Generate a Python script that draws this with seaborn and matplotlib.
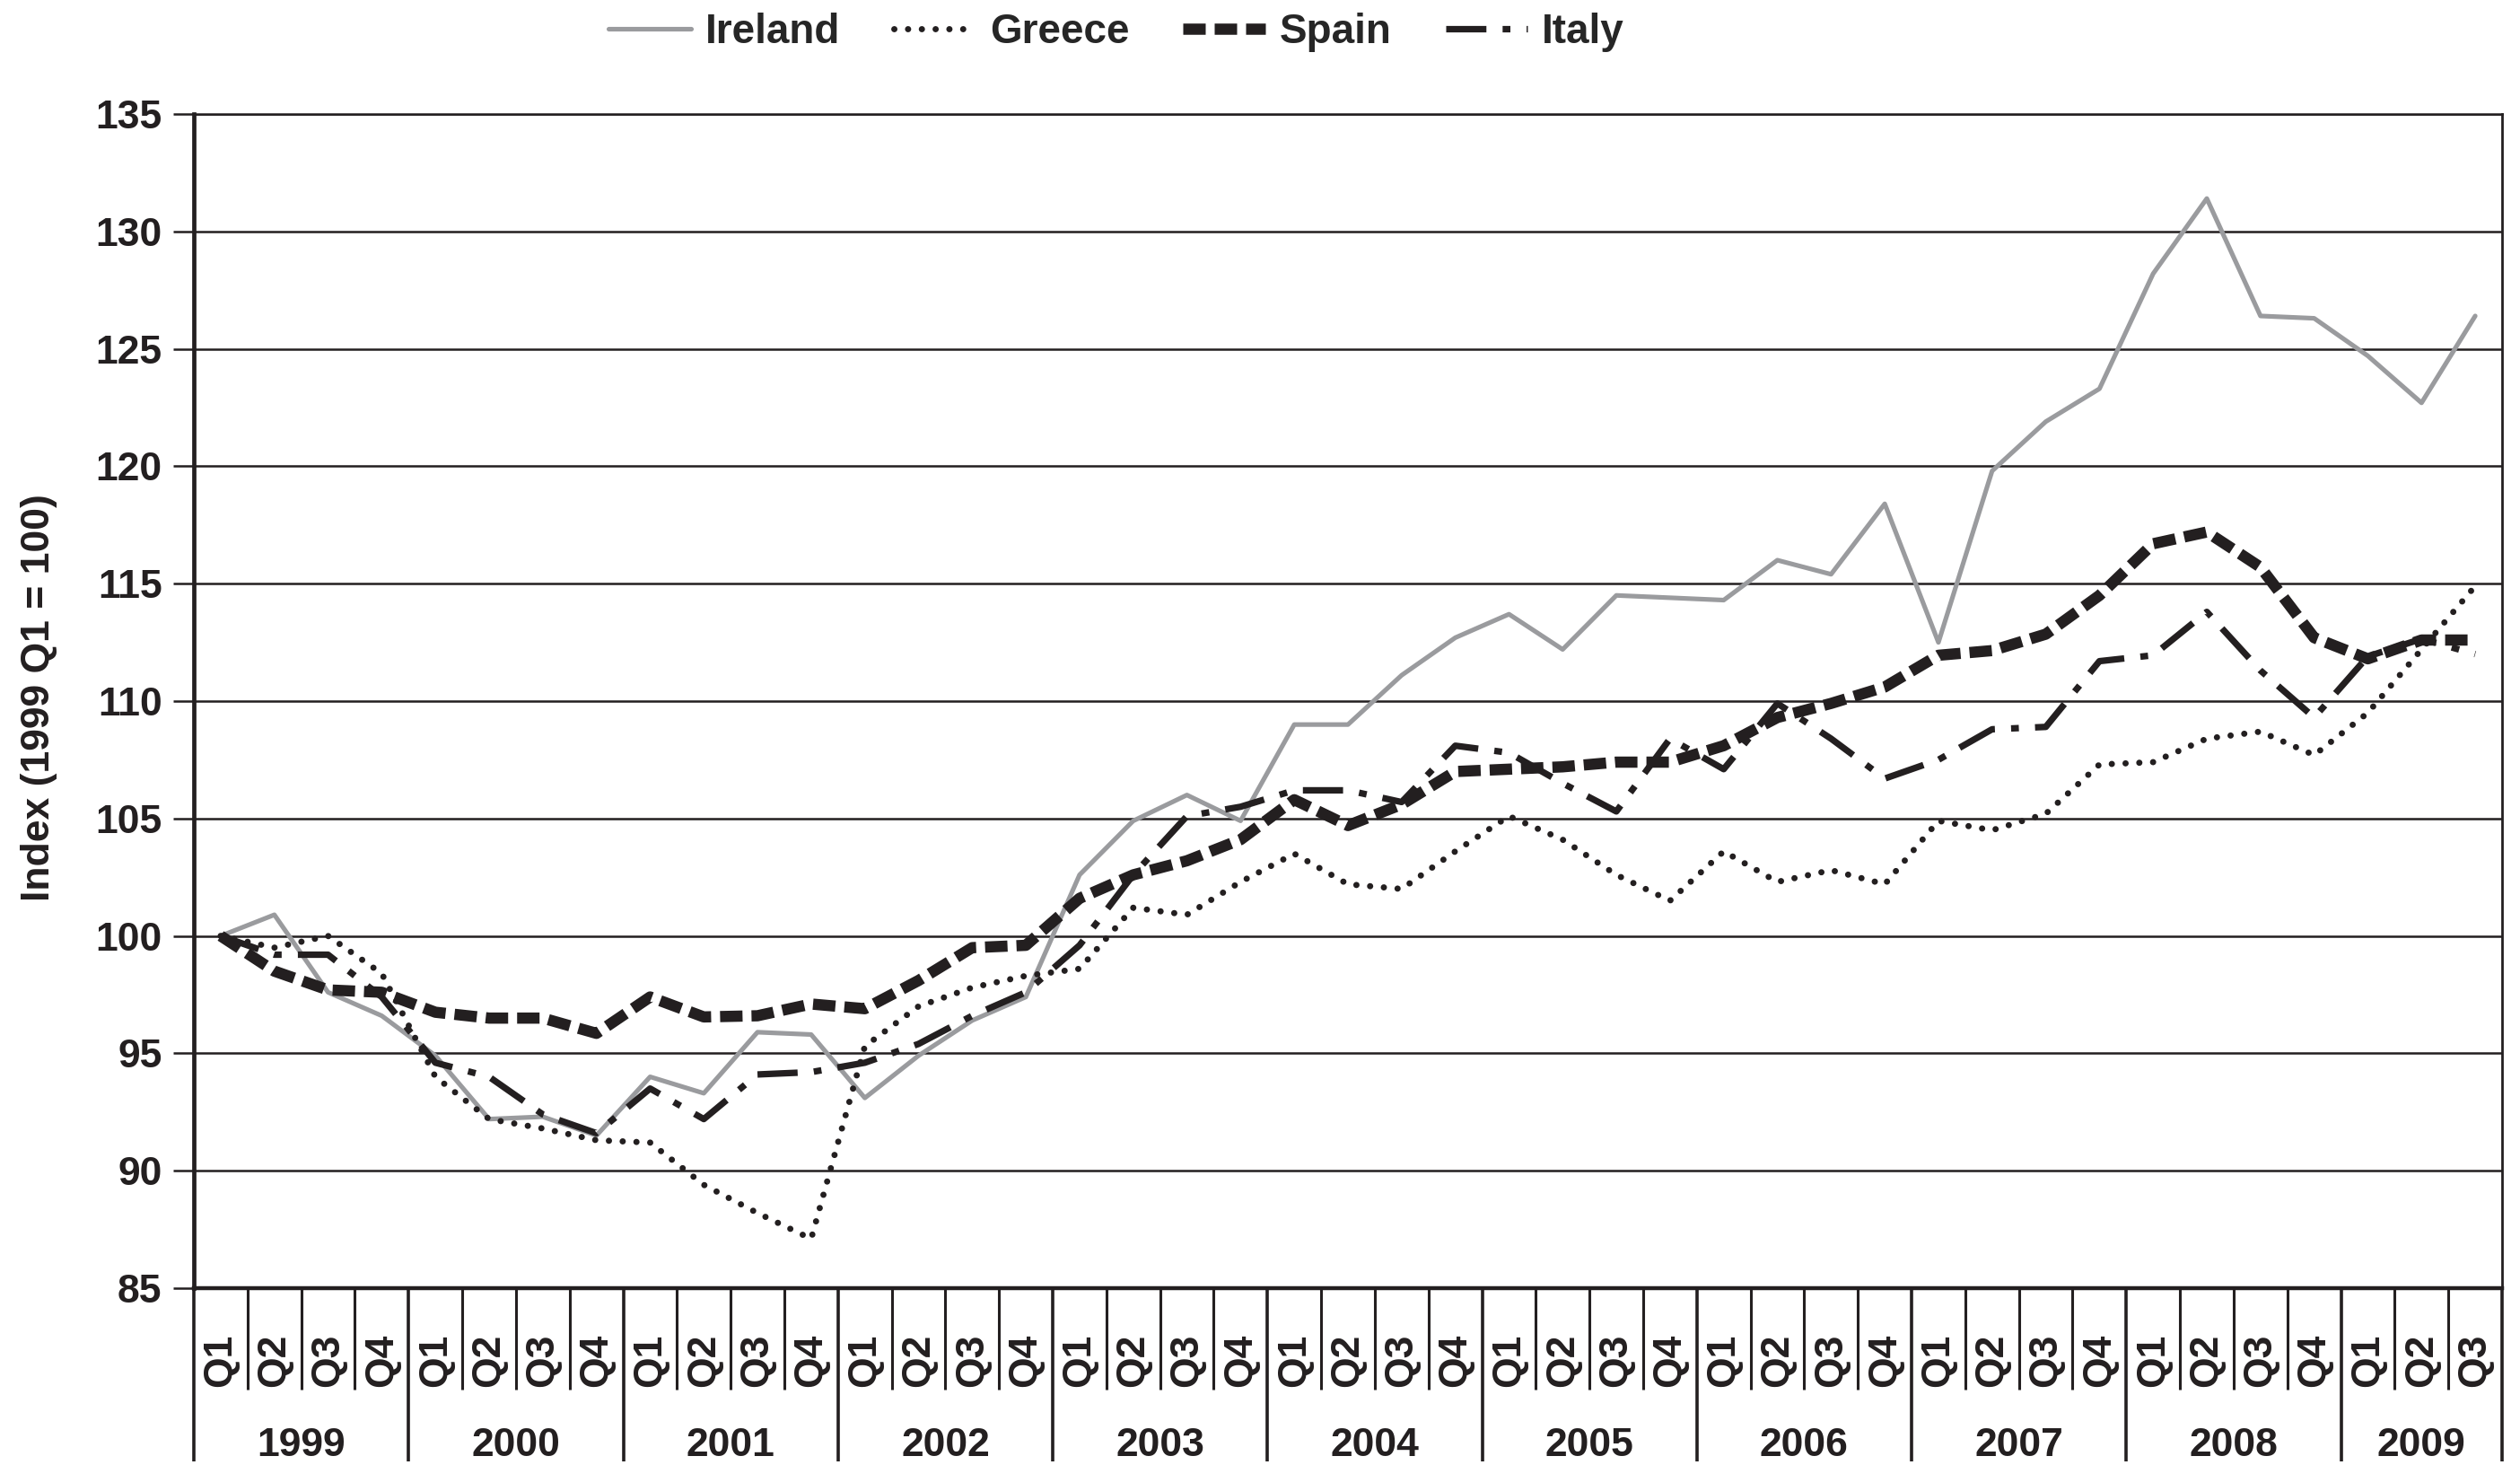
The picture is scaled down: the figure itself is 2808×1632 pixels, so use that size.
import numpy as np
import pandas as pd
import matplotlib
matplotlib.use("Agg")
import matplotlib.pyplot as plt
import seaborn as sns
from matplotlib.transforms import blended_transform_factory

# ---------------- data ----------------
years = ["1999", "2000", "2001", "2002", "2003", "2004", "2005", "2006", "2007", "2008", "2009"]
quarters = ["Q1", "Q2", "Q3", "Q4"] * 10 + ["Q1", "Q2", "Q3"]

ireland = [100.0, 100.9, 97.6, 96.6, 94.9, 92.2, 92.3, 91.5, 94.0, 93.3, 95.9, 95.8,
           93.1, 94.9, 96.4, 97.4, 102.6, 104.9, 106.0, 104.9, 109.0, 109.0, 111.1, 112.7,
           113.7, 112.2, 114.5, 114.4, 114.3, 116.0, 115.4, 118.4, 112.5, 119.8, 121.9, 123.3,
           128.2, 131.4, 126.4, 126.3, 124.7, 122.7, 126.4]
greece = [100.0, 99.5, 100.0, 98.4, 94.0, 92.2, 91.8, 91.3, 91.2, 89.4, 88.2, 87.1,
          95.3, 97.0, 97.8, 98.3, 98.6, 101.2, 100.9, 102.3, 103.5, 102.2, 102.0, 103.6,
          105.1, 104.1, 102.6, 101.5, 103.6, 102.3, 102.8, 102.2, 104.9, 104.5, 105.2, 107.3,
          107.4, 108.4, 108.7, 107.7, 109.5, 112.2, 114.9]
spain = [100.0, 98.5, 97.7, 97.6, 96.75, 96.5, 96.5, 95.85, 97.4, 96.55, 96.6, 97.1,
         96.9, 98.1, 99.5, 99.6, 101.6, 102.6, 103.2, 104.1, 105.8, 104.7, 105.6, 107.0,
         107.1, 107.2, 107.4, 107.4, 108.1, 109.3, 109.9, 110.6, 111.95, 112.15, 112.85, 114.5,
         116.7, 117.2, 115.7, 112.7, 111.8, 112.6, 112.6]
italy = [100.0, 99.2, 99.2, 97.4, 94.6, 94.0, 92.4, 91.6, 93.5, 92.2, 94.1, 94.2,
         94.6, 95.4, 96.6, 97.6, 99.6, 102.6, 105.1, 105.5, 106.2, 106.2, 105.7, 108.1,
         107.8, 106.5, 105.3, 108.4, 107.1, 109.9, 108.4, 106.7, 107.5, 108.8, 108.9, 111.7,
         111.95, 113.8, 111.3, 109.3, 111.9, 112.65, 112.0]

series_names = ["Ireland", "Greece", "Spain", "Italy"]
yticks = [85, 90, 95, 100, 105, 110, 115, 120, 125, 130, 135]
ylabel_text = "Index (1999 Q1 = 100)"

n = len(quarters)
year_of = []
for y in years:
    year_of += [y] * 4
year_of = year_of[:n]

df = pd.DataFrame({"idx": np.arange(n), "Ireland": ireland, "Greece": greece,
                   "Spain": spain, "Italy": italy})
long = df.melt(id_vars="idx", var_name="country", value_name="value")

# ---------------- style ----------------
sns.set_theme(style="white")
plt.rcParams["font.family"] = ["Liberation Sans", "DejaVu Sans"]
plt.rcParams["font.weight"] = "bold"
INK = "#231f20"
FS = 32

W, H = 2808, 1632
fig = plt.figure(figsize=(W / 100, H / 100), dpi=100)
left_px, right_px, top_px, bottom_px = 216, 2788, 127, 1435
ax = fig.add_axes([left_px / W, 1 - bottom_px / H, (right_px - left_px) / W, (bottom_px - top_px) / H])

styles = {
    "Ireland": dict(color="#9a9b9e", lw=3.7, linestyle="-"),
    "Greece": dict(color=INK, lw=5.0, linestyle=(0, (0.01, 2.2)), dash_capstyle="round"),
    "Spain": dict(color=INK, lw=9.0, linestyle=(0, (2.0, 0.8))),
    "Italy": dict(color=INK, lw=5.2, linestyle=(0, (6.2, 2.5, 1.2, 2.5))),
}
draw_order = ["Ireland", "Greece", "Italy", "Spain"]
for name in draw_order:
    sub = long[long["country"] == name]
    sns.lineplot(data=sub, x="idx", y="value", ax=ax, label=name, **styles[name])

# axes
ax.set_xlim(-0.5, n - 0.5)
ax.set_ylim(85, 135)
ax.set_yticks(yticks)
ax.set_xticks([])
ax.set_xlabel("")
ax.set_ylabel("")
ax.yaxis.grid(True, color=INK, lw=1.8)
ax.xaxis.grid(False)
ax.set_axisbelow(True)
ax.tick_params(axis="y", direction="out", length=16.5, width=1.8, pad=9,
               labelsize=FS, left=True, color=INK, labelcolor=INK)
for lab in ax.get_yticklabels():
    lab.set_fontweight("bold")
for side, lw in [("left", 3.4), ("bottom", 3.2), ("right", 2.0), ("top", 1.8)]:
    ax.spines[side].set_visible(True)
    ax.spines[side].set_color(INK)
    ax.spines[side].set_linewidth(lw)

# category axis decorations
trans = blended_transform_factory(ax.transData, ax.transAxes)
q_bottom = -(1548 - bottom_px) / (bottom_px - top_px)
y_bottom = -(1628 - bottom_px) / (bottom_px - top_px)
year_base = -(1622 - bottom_px) / (bottom_px - top_px)
for b in range(n + 1):
    is_year = (b % 4 == 0) or (b == n)
    ax.plot([b - 0.5, b - 0.5], [0, y_bottom if is_year else q_bottom],
            transform=trans, clip_on=False, color=INK, lw=2.6 if is_year else 2.2,
            solid_capstyle="butt")
for i, q in enumerate(quarters):
    ax.text(i, q_bottom + 0.002, q, transform=trans, rotation=90, ha="center", va="bottom",
            fontsize=FS, fontweight="bold", color=INK)
for y in years:
    idxs = [i for i in range(n) if year_of[i] == y]
    ax.text(np.mean(idxs), year_base, y, transform=trans, ha="center", va="baseline",
            fontsize=FS, fontweight="bold", color=INK)

fig.text(44 / W, 1 - 777 / H, ylabel_text, rotation=90, ha="center", va="center",
         fontsize=FS, fontweight="bold", color=INK)

# legend
handles, labels = ax.get_legend_handles_labels()
hmap = dict(zip(labels, handles))
if ax.get_legend() is not None:
    ax.get_legend().remove()
fig.legend([hmap[s] for s in series_names], series_names, loc="center",
           bbox_to_anchor=(0.443, 0.978), ncol=4, frameon=False,
           handlelength=2.0, handletextpad=0.35, columnspacing=1.3,
           prop={"weight": "bold", "size": 33})

fig.savefig("out.png", dpi=100)
